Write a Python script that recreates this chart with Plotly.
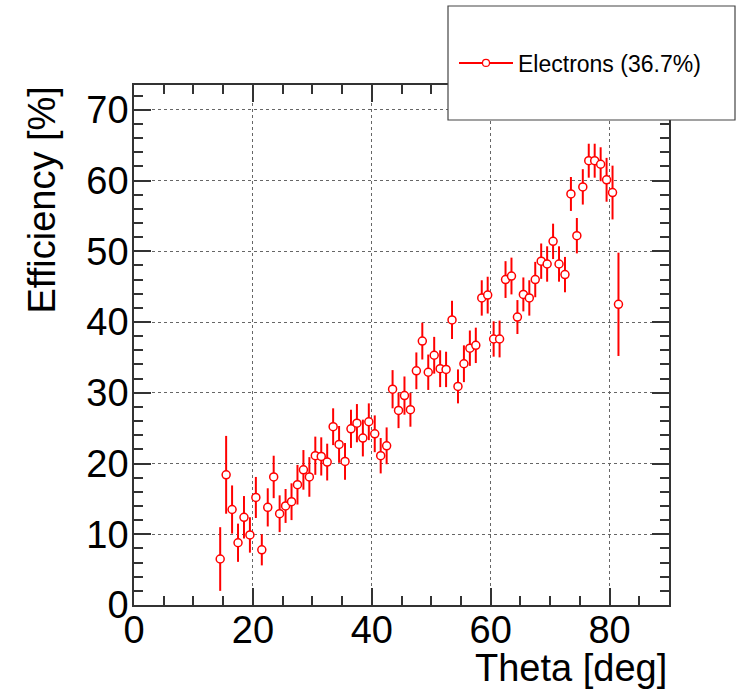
import plotly.graph_objects as go

theta = [14.5, 15.5, 16.5, 17.5, 18.5, 19.5, 20.5, 21.5, 22.5, 23.5,
         24.5, 25.5, 26.5, 27.5, 28.5, 29.5, 30.5, 31.5, 32.5, 33.5,
         34.5, 35.5, 36.5, 37.5, 38.5, 39.5, 40.5, 41.5, 42.5, 43.5,
         44.5, 45.5, 46.5, 47.5, 48.5, 49.5, 50.5, 51.5, 52.5, 53.5,
         54.5, 55.5, 56.5, 57.5, 58.5, 59.5, 60.5, 61.5, 62.5, 63.5,
         64.5, 65.5, 66.5, 67.5, 68.5, 69.5, 70.5, 71.5, 72.5, 73.5,
         74.5, 75.5, 76.5, 77.5, 78.5, 79.5, 80.5, 81.5]

efficiency = [6.5, 18.4, 13.5, 8.8, 12.4, 9.9, 15.2, 7.8, 13.8, 18.1,
              12.9, 14.0, 14.6, 17.0, 19.1, 18.1, 21.1, 21.0, 20.2, 25.2,
              22.7, 20.3, 24.9, 25.7, 23.6, 25.9, 24.2, 21.1, 22.5, 30.5,
              27.5, 29.6, 27.6, 33.1, 37.3, 32.9, 35.3, 33.4, 33.3, 40.3,
              30.9, 34.1, 36.3, 36.7, 43.4, 43.8, 37.6, 37.6, 46.0, 46.5,
              40.7, 43.9, 43.4, 46.0, 48.6, 48.2, 51.4, 48.2, 46.7, 58.1,
              52.2, 59.1, 62.8, 62.8, 62.3, 60.1, 58.3, 42.5]

errors = [4.5, 5.5, 3.4, 2.7, 3.0, 2.5, 2.9, 2.2, 2.7, 3.0,
          2.6, 2.4, 2.6, 2.8, 2.8, 2.8, 2.7, 2.7, 2.6, 2.6,
          2.6, 2.6, 2.7, 2.7, 2.6, 2.6, 2.6, 2.5, 2.6, 2.7,
          2.5, 2.7, 2.4, 2.6, 2.6, 2.5, 2.6, 2.6, 2.5, 2.7,
          2.4, 2.6, 2.5, 2.5, 2.5, 2.6, 2.5, 2.6, 2.6, 2.6,
          2.4, 2.4, 2.5, 2.5, 2.5, 2.5, 2.5, 2.5, 2.5, 2.4,
          2.5, 2.5, 2.4, 2.4, 2.4, 3.1, 3.8, 7.3]

legend_label = "Electrons (36.7%)"
x_title = "Theta [deg]"
y_title = "Efficiency [%]"

FONT = "Liberation Sans, Arial, Helvetica, sans-serif"
RED = "#ff0000"
AX = "#333333"

fig = go.Figure()
fig.add_trace(go.Scatter(
    x=theta, y=efficiency, mode="markers", showlegend=False,
    marker=dict(symbol="circle", size=8, color="white",
                line=dict(color=RED, width=1.5)),
    error_y=dict(type="data", array=errors, visible=True,
                 color=RED, thickness=2, width=0),
))
# legend entry (line + marker)
fig.add_trace(go.Scatter(
    x=[None], y=[None], mode="lines+markers", name=legend_label,
    line=dict(color=RED, width=2),
    marker=dict(symbol="circle", size=7, color="white",
                line=dict(color=RED, width=1.2)),
))

axis_common = dict(
    showline=True, linecolor=AX, linewidth=1.5, mirror="ticks",
    ticks="inside", ticklen=17, tickwidth=1.5, tickcolor=AX,
    showgrid=True, gridcolor="#666666", griddash="dot", gridwidth=1,
    zeroline=False,
    tickfont=dict(family=FONT, size=38, color="black"),
)

fig.update_xaxes(range=[0, 90], tickmode="linear", tick0=0, dtick=20,
                 ticklabelstandoff=-9,
                 minor=dict(dtick=5, ticks="inside", ticklen=9,
                            tickcolor=AX, tickwidth=1.5, showgrid=False),
                 **axis_common)
fig.update_yaxes(range=[0, 73.5], tickmode="linear", tick0=0, dtick=10,
                 ticklabelstandoff=-4,
                 minor=dict(dtick=2, ticks="inside", ticklen=9,
                            tickcolor=AX, tickwidth=1.5, showgrid=False),
                 **axis_common)

L, R, T, B = 134, 71, 85, 85
W, H = 740, 690
pw, ph = W - L - R, H - T - B

def px_x(p):
    return (p - L) / pw

def px_y(p):
    return (H - B - p) / ph

fig.update_layout(
    width=W, height=H,
    margin=dict(l=L, r=R, t=T, b=B),
    paper_bgcolor="white", plot_bgcolor="white",
    font=dict(family=FONT, color="black"),
    showlegend=True,
    legend=dict(x=px_x(454), y=px_y(63), xanchor="left", yanchor="middle",
                bgcolor="rgba(0,0,0,0)", borderwidth=0,
                font=dict(family=FONT, size=23, color="black"),
                itemwidth=54),
    shapes=[dict(type="rect", xref="paper", yref="paper",
                 x0=px_x(448), x1=px_x(735), y0=px_y(120), y1=px_y(6),
                 line=dict(color="#444444", width=1.2),
                 fillcolor="white", layer="above")],
    annotations=[
        dict(text=y_title, xref="paper", yref="paper",
             x=px_x(41), y=px_y(85), xanchor="center", yanchor="top",
             textangle=-90, showarrow=False,
             font=dict(family=FONT, size=38, color="black")),
        dict(text=x_title, xref="paper", yref="paper",
             x=px_x(669), y=px_y(691), xanchor="right", yanchor="bottom",
             showarrow=False,
             font=dict(family=FONT, size=38, color="black")),
    ],
)

fig.write_html("out.html")
